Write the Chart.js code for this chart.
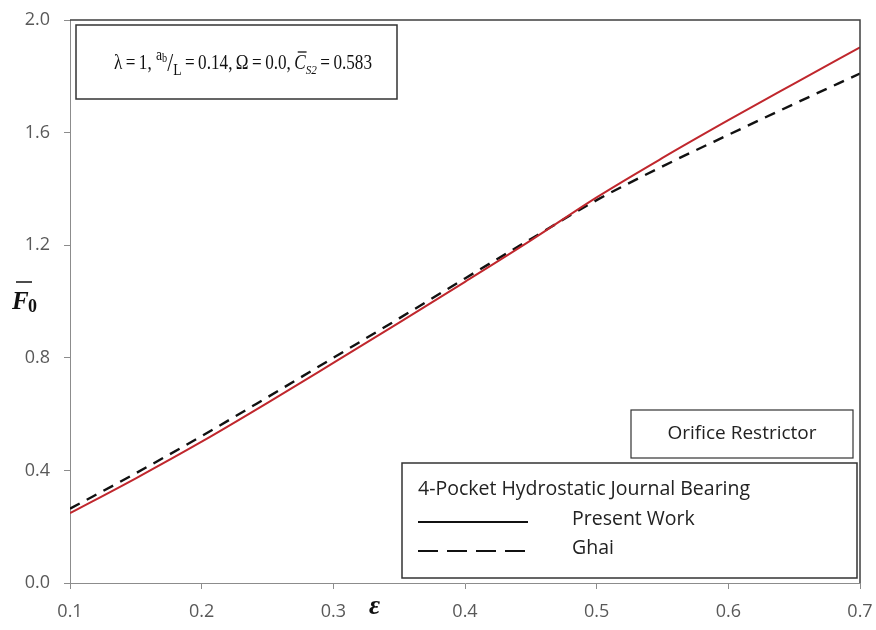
<!DOCTYPE html>
<html>
<head>
<meta charset="utf-8">
<script src="https://cdn.jsdelivr.net/npm/chart.js@4.4.1/dist/chart.umd.min.js"></script>
<style>
  html, body { margin: 0; padding: 0; background: #fff; }
  #wrap { width: 876px; height: 630px; }
</style>
</head>
<body>
<div id="wrap"><canvas id="chart" width="876" height="630"></canvas></div>
<script>
// eccentricity ratio values
const eps = [0.1, 0.15, 0.2, 0.25, 0.3, 0.35, 0.4, 0.45, 0.5, 0.55, 0.6, 0.65, 0.7];
// non-dimensional load, present work
const presentWork = [0.248, 0.372, 0.502, 0.640, 0.782, 0.925, 1.070, 1.217, 1.370, 1.510, 1.644, 1.774, 1.903];
// Ghai
const ghai = [0.264, 0.390, 0.522, 0.660, 0.800, 0.940, 1.082, 1.222, 1.360, 1.480, 1.592, 1.702, 1.810];
const yTicks = [0.0, 0.4, 0.8, 1.2, 1.6, 2.0];

const labelFont = '"Open Sans", "Noto Sans", sans-serif';
const mathFont = '"Liberation Serif", "DejaVu Serif", serif';
const thin = '\u2009';

function toPoints(xs, ys) {
    return xs.map((x, i) => ({ x: x, y: ys[i] }));
}

// draw a run of text pieces fitted into a given width, centred on cx
function drawRun(ctx, pieces, cx, cy, width) {
    let total = 0;
    pieces.forEach(p => {
        ctx.font = p.font;
        p.w = ctx.measureText(p.t).width;
        total += p.w;
    });
    const k = Math.min(1, width / total);
    ctx.save();
    ctx.translate(cx - total * k / 2, cy);
    ctx.scale(k, 1);
    let x = 0;
    ctx.textBaseline = 'alphabetic';
    ctx.textAlign = 'left';
    pieces.forEach(p => {
        ctx.font = p.font;
        ctx.fillText(p.t, x, p.dy || 0);
        if (p.bar) {
            ctx.beginPath();
            ctx.lineWidth = 1.3;
            ctx.moveTo(x + 4, -17);
            ctx.lineTo(x + p.w + 1, -17);
            ctx.stroke();
        }
        x += p.w;
    });
    ctx.restore();
}

const annotations = {
    id: 'annotations',
    afterDraw(chart) {
        const ctx = chart.ctx;
        const a = chart.chartArea;
        ctx.save();

        // darker frame on top and right of the plot
        ctx.strokeStyle = '#3f3f3f';
        ctx.lineWidth = 1.5;
        ctx.beginPath();
        ctx.moveTo(a.left, a.top);
        ctx.lineTo(a.right, a.top);
        ctx.lineTo(a.right, a.bottom);
        ctx.stroke();

        // parameter box
        ctx.fillStyle = '#fff';
        ctx.strokeStyle = '#333';
        ctx.lineWidth = 1.5;
        ctx.fillRect(76, 25, 321, 74);
        ctx.strokeRect(76, 25, 321, 74);
        ctx.fillStyle = '#111';
        ctx.strokeStyle = '#111';
        const n = '20px ' + mathFont;
        const it = 'italic 20px ' + mathFont;
        const eq = thin + '=' + thin;
        drawRun(ctx, [
            { t: 'λ' + eq + '1, ', font: n },
            { t: 'a', font: '16px ' + mathFont, dy: -9 },
            { t: 'b', font: '12px ' + mathFont, dy: -7 },
            { t: '/', font: '25px ' + mathFont, dy: 2 },
            { t: 'L', font: '16px ' + mathFont, dy: 6 },
            { t: eq + '0.14,' + thin + 'Ω' + eq + '0.0,' + thin, font: n },
            { t: 'C', font: it, bar: true },
            { t: 'S2', font: 'italic 13px ' + mathFont, dy: 5 },
            { t: eq + '0.583', font: n }
        ], 243, 69, 258);

        // restrictor box
        ctx.fillStyle = '#fff';
        ctx.lineWidth = 1.2;
        ctx.strokeStyle = '#333';
        ctx.fillRect(631, 410, 222, 48);
        ctx.strokeRect(631, 410, 222, 48);
        ctx.fillStyle = '#222';
        ctx.font = '19px ' + labelFont;
        ctx.textAlign = 'center';
        ctx.textBaseline = 'middle';
        ctx.fillText('Orifice Restrictor', 742, 434);

        // legend box
        ctx.fillStyle = '#fff';
        ctx.fillRect(402, 463, 455, 115);
        ctx.lineWidth = 1.5;
        ctx.strokeRect(402, 463, 455, 115);
        ctx.fillStyle = '#222';
        ctx.textAlign = 'left';
        ctx.font = '19.5px ' + labelFont;
        ctx.fillText('4-Pocket Hydrostatic Journal Bearing', 418, 489);
        const rows = [519, 548];
        const legendDash = [[], [20, 9]];
        chart.data.datasets.forEach((ds, i) => {
            ctx.beginPath();
            ctx.strokeStyle = '#111';
            ctx.lineWidth = 2.2;
            ctx.setLineDash(legendDash[i]);
            ctx.moveTo(418, rows[i] + 3);
            ctx.lineTo(528, rows[i] + 3);
            ctx.stroke();
            ctx.setLineDash([]);
            ctx.fillStyle = '#222';
            ctx.fillText(ds.label, 572, rows[i]);
        });

        // axis titles
        ctx.fillStyle = '#111';
        ctx.strokeStyle = '#111';
        ctx.textAlign = 'left';
        ctx.textBaseline = 'alphabetic';
        ctx.font = 'bold italic 25px ' + mathFont;
        ctx.fillText('F', 12, 309);
        ctx.beginPath();
        ctx.lineWidth = 1.5;
        ctx.moveTo(16, 282);
        ctx.lineTo(32, 282);
        ctx.stroke();
        ctx.font = 'bold 18px ' + mathFont;
        ctx.fillText('0', 28, 312);
        ctx.font = 'bold italic 27px ' + mathFont;
        ctx.fillText('ε', 369, 614);

        ctx.restore();
    }
};

new Chart(document.getElementById('chart'), {
    type: 'scatter',
    data: {
        datasets: [
            {
                label: 'Present Work',
                data: toPoints(eps, presentWork),
                showLine: true,
                borderColor: '#c0272d',
                borderWidth: 2,
                pointRadius: 0,
                cubicInterpolationMode: 'monotone'
            },
            {
                label: 'Ghai',
                data: toPoints(eps, ghai),
                showLine: true,
                borderColor: '#111',
                borderWidth: 2.4,
                borderDash: [11, 8],
                pointRadius: 0,
                cubicInterpolationMode: 'monotone'
            }
        ]
    },
    options: {
        responsive: false,
        animation: false,
        layout: { padding: { left: 0, right: 16, top: 20, bottom: 0 } },
        plugins: { legend: { display: false }, tooltip: { enabled: false } },
        scales: {
            x: {
                type: 'linear',
                min: 0.1,
                max: 0.7,
                afterFit(s) { s.height = 47; s.paddingLeft = 0; s.paddingRight = 0; },
                afterBuildTicks(s) { s.ticks = eps.filter((v, i) => i % 2 === 0).map(v => ({ value: v })); },
                ticks: {
                    callback: v => v.toFixed(1),
                    color: '#595959',
                    font: { family: labelFont, size: 18 },
                    padding: 12,
                    maxRotation: 0
                },
                grid: { drawOnChartArea: false, tickLength: 6, color: '#8c8c8c' },
                border: { color: '#8c8c8c', width: 1 }
            },
            y: {
                min: 0,
                max: 2,
                afterFit(s) { s.width = 70; s.paddingTop = 0; s.paddingBottom = 0; },
                afterBuildTicks(s) { s.ticks = yTicks.map(v => ({ value: v })); },
                ticks: {
                    callback: v => v.toFixed(1),
                    color: '#595959',
                    font: { family: labelFont, size: 18 },
                    padding: 14
                },
                grid: { drawOnChartArea: false, tickLength: 6, color: '#8c8c8c' },
                border: { color: '#8c8c8c', width: 1 }
            }
        }
    },
    plugins: [annotations]
});
</script>
</body>
</html>
